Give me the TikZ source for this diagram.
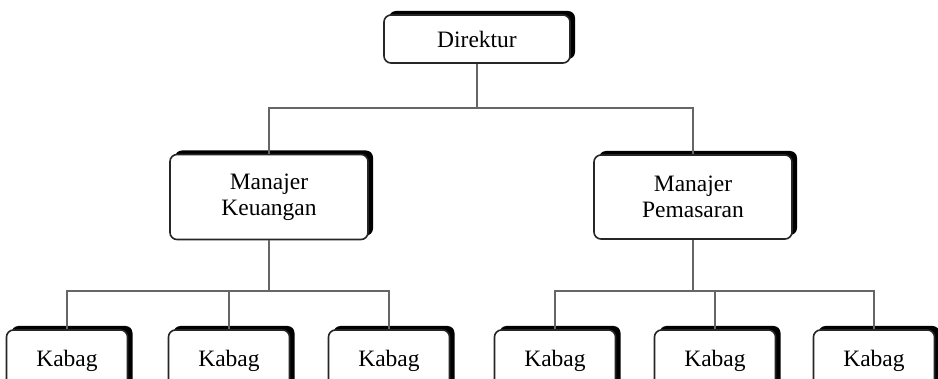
\documentclass[tikz,border=0pt]{standalone}
\usepackage{fontspec}
\setmainfont{Liberation Serif}
\usetikzlibrary{shadows}
\begin{document}
\begin{tikzpicture}[x=1pt,y=-1pt,
  box/.style={draw=black!85, line width=1.6pt, fill=white, rounded corners=7pt,
    inner sep=0pt, align=center, font=\fontsize{23.5}{26}\selectfont,
    drop shadow={shadow xshift=5pt, shadow yshift=4pt, fill=black, opacity=1}},
  link/.style={draw=black!60, line width=2pt}]
\useasboundingbox (0,0) rectangle (938,379);
\node[box, minimum width=186pt, minimum height=48pt] (dir) at (477,39) {Direktur};
\node[box, minimum width=198pt, minimum height=85pt] (mk) at (269,197) {Manajer\\Keuangan};
\node[box, minimum width=198pt, minimum height=84pt] (mp) at (693,197) {Manajer\\Pemasaran};
\foreach \n/\x in {k1/67,k2/229,k3/389,k4/555,k5/715,k6/874}{
  \node[box, minimum width=121pt, minimum height=62pt] (\n) at (\x,361) {Kabag};
}
\coordinate (j1) at (477,108);
\coordinate (j2) at (269,291);
\coordinate (j3) at (693,291);
\draw[link] (dir.south) -- (j1);
\draw[link] (j1) -| (mk.north);
\draw[link] (j1) -| (mp.north);
\draw[link] (mk.south) -- (j2);
\draw[link] (mp.south) -- (j3);
\draw[link] (j2) -| (k1.north);
\draw[link] (j2) -| (k2.north);
\draw[link] (j2) -| (k3.north);
\draw[link] (j3) -| (k4.north);
\draw[link] (j3) -| (k5.north);
\draw[link] (j3) -| (k6.north);
\end{tikzpicture}
\end{document}
